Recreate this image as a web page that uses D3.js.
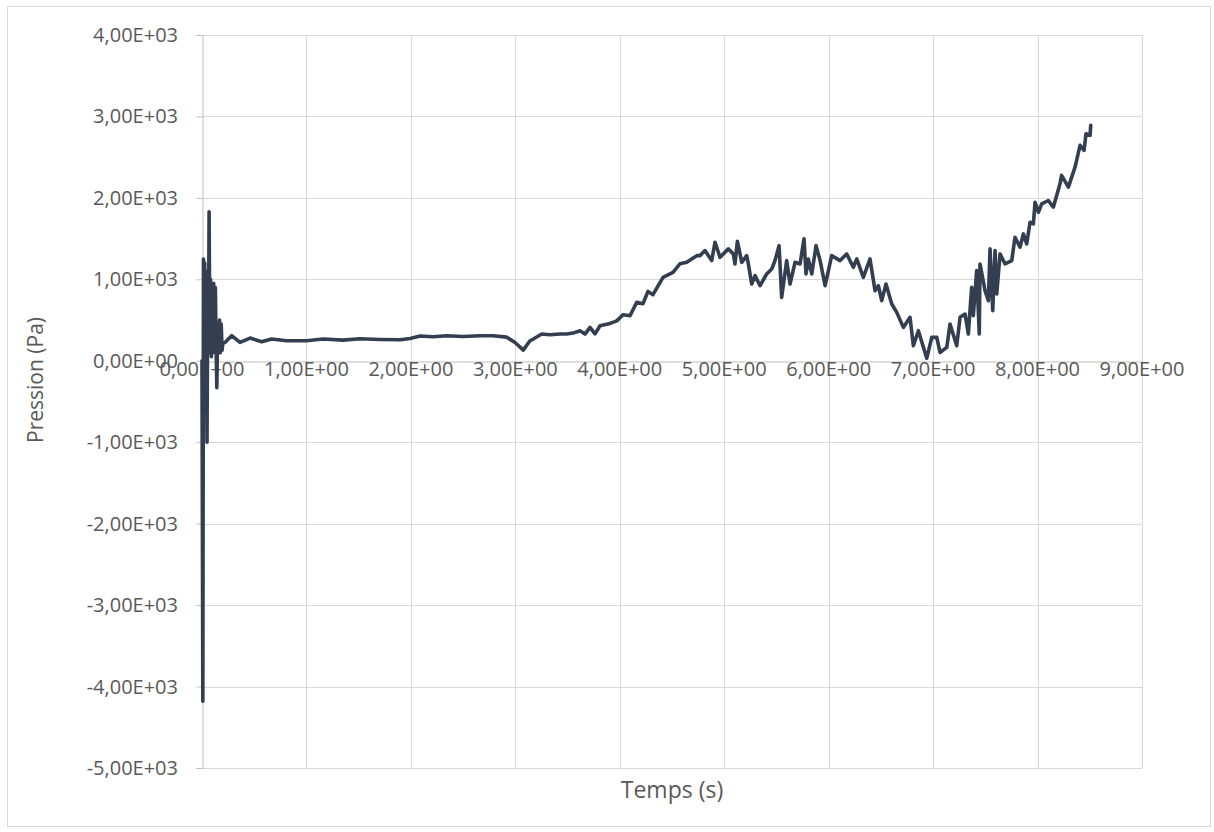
<!DOCTYPE html>
<html>
<head>
<meta charset="utf-8">
<script src="https://cdn.jsdelivr.net/npm/d3@7"></script>
<style>
  html, body { margin: 0; padding: 0; background: #ffffff; }
  svg { display: block; }
  text { font-family: "Open Sans", "Noto Sans", sans-serif; fill: #595959; }
</style>
</head>
<body>
<svg id="chart" width="1214" height="832"></svg>
<script>
// Time (s) of each pressure sample
const temps = [
  0.000, 0.008, 0.014, 0.020, 0.026, 0.032, 0.040, 0.048, 0.055, 0.062,
  0.068, 0.075, 0.082, 0.090, 0.098, 0.105, 0.112, 0.120, 0.128, 0.135,
  0.142, 0.150, 0.160, 0.168, 0.176, 0.184, 0.192, 0.200, 0.220, 0.284,
  0.364, 0.460, 0.572, 0.667, 0.811, 1.002, 1.159, 1.350, 1.513, 1.704,
  1.896, 1.992, 2.087, 2.212, 2.343, 2.499, 2.662, 2.786, 2.917, 2.997,
  3.076, 3.140, 3.172, 3.253, 3.332, 3.428, 3.492, 3.552, 3.619, 3.667,
  3.715, 3.763, 3.811, 3.907, 3.971, 4.031, 4.098, 4.162, 4.222, 4.270,
  4.318, 4.414, 4.509, 4.576, 4.641, 4.737, 4.768, 4.816, 4.880, 4.912,
  4.960, 5.039, 5.087, 5.103, 5.126, 5.168, 5.215, 5.231, 5.263, 5.295,
  5.343, 5.407, 5.455, 5.486, 5.525, 5.550, 5.598, 5.630, 5.678, 5.726,
  5.764, 5.783, 5.805, 5.838, 5.879, 5.918, 5.966, 6.029, 6.109, 6.173,
  6.236, 6.269, 6.332, 6.396, 6.444, 6.476, 6.508, 6.549, 6.604, 6.652,
  6.715, 6.779, 6.811, 6.859, 6.939, 6.987, 7.035, 7.066, 7.131, 7.162,
  7.226, 7.258, 7.306, 7.337, 7.369, 7.385, 7.417, 7.442, 7.449, 7.497,
  7.529, 7.545, 7.571, 7.593, 7.609, 7.641, 7.689, 7.753, 7.784, 7.832,
  7.864, 7.896, 7.928, 7.960, 7.976, 8.008, 8.040, 8.103, 8.151, 8.215,
  8.230, 8.295, 8.359, 8.407, 8.445, 8.464, 8.503, 8.509
];

// Measured pressure (Pa)
const pression = [
  0, -4180, 1250, 0, 1200, -300, 1100, -1000, 900, 200,
  1830, 100, 1000, 50, 900, 100, 950, 150, 900, 200,
  -330, 400, 150, 500, 100, 450, 130, 220, 225, 308,
  225, 279, 234, 267, 246, 246, 267, 254, 271, 262,
  258, 274, 304, 295, 308, 299, 308, 308, 290, 225,
  131, 246, 267, 328, 320, 328, 328, 340, 369, 328,
  410, 330, 430, 459, 490, 566, 553, 717, 700, 852,
  812, 1025, 1086, 1190, 1210, 1291, 1291, 1353, 1230, 1455,
  1270, 1374, 1312, 1189, 1468, 1209, 1291, 1189, 943, 1045,
  922, 1066, 1127, 1230, 1414, 779, 1230, 943, 1209, 1189,
  1497, 1066, 1250, 1066, 1414, 1230, 922, 1291, 1230, 1312,
  1148, 1250, 1025, 1250, 861, 922, 738, 943, 697, 594,
  410, 533, 185, 369, 30, 287, 287, 102, 164, 451,
  185, 533, 574, 328, 902, 554, 1107, 328, 1189, 861,
  738, 1374, 615, 1353, 820, 1312, 1189, 1230, 1517, 1394,
  1558, 1435, 1701, 1681, 1947, 1824, 1927, 1968, 1886, 2173,
  2276, 2132, 2378, 2645, 2583, 2788, 2768, 2891
];

// Axis ticks
const xTicks = [0, 1, 2, 3, 4, 5, 6, 7, 8, 9];
const yTicks = [-5000, -4000, -3000, -2000, -1000, 0, 1000, 2000, 3000, 4000];
const xTitle = "Temps (s)";
const yTitle = "Pression (Pa)";

// Scientific label with comma decimal: 1,00E+03
function sci(v) {
  if (v === 0) return "0,00E+00";
  const neg = v < 0;
  const a = Math.abs(v);
  const e = Math.floor(Math.log10(a));
  const m = a / Math.pow(10, e);
  const s = m.toFixed(2).replace(".", ",");
  const es = (e < 0 ? "-" : "+") + String(Math.abs(e)).padStart(2, "0");
  return (neg ? "-" : "") + s + "E" + es;
}

const svg = d3.select("#chart");
const plot = { left: 202, right: 1142, top: 35, bottom: 768 };

// outer chart frame
svg.append("rect")
  .attr("x", 7.5).attr("y", 6.5)
  .attr("width", 1203).attr("height", 820)
  .attr("fill", "#ffffff")
  .attr("stroke", "#d9d9d9").attr("stroke-width", 1);

const x = d3.scaleLinear().domain([0, 9]).range([plot.left, plot.right]);
const y = d3.scaleLinear().domain([-5000, 4000]).range([plot.bottom, plot.top]);

// gridlines
const grid = svg.append("g");
grid.selectAll("line.h").data(yTicks.filter(d => d !== 0)).join("line")
  .attr("class", "h")
  .attr("x1", plot.left).attr("x2", plot.right)
  .attr("y1", d => Math.round(y(d)) + 0.5).attr("y2", d => Math.round(y(d)) + 0.5)
  .attr("stroke", "#d9d9d9").attr("stroke-width", 1);
grid.selectAll("line.v").data(xTicks.filter(d => d !== 0)).join("line")
  .attr("class", "v")
  .attr("y1", plot.top).attr("y2", plot.bottom)
  .attr("x1", d => Math.round(x(d)) + 0.5).attr("x2", d => Math.round(x(d)) + 0.5)
  .attr("stroke", "#d9d9d9").attr("stroke-width", 1);

// y axis (left) with outward ticks
const yAxis = svg.append("g")
  .attr("transform", `translate(${plot.left + 0.5},0)`)
  .call(d3.axisLeft(y).tickValues(yTicks).tickSize(6).tickFormat(""));
yAxis.select(".domain").attr("stroke", "#bfbfbf");
yAxis.selectAll(".tick line").attr("stroke", "#bfbfbf");

// y tick labels
svg.append("g").selectAll("text").data(yTicks).join("text")
  .attr("x", 178).attr("y", d => y(d))
  .attr("dy", "0.35em")
  .attr("text-anchor", "end")
  .attr("font-size", 20)
  .text(d => sci(d));

// x axis at zero with downward ticks
const xAxis = svg.append("g")
  .attr("transform", `translate(0,${Math.round(y(0)) + 0.5})`)
  .call(d3.axisBottom(x).tickValues(xTicks).tickSize(6).tickFormat(""));
xAxis.select(".domain").attr("stroke", "#bfbfbf");
xAxis.selectAll(".tick line").attr("stroke", "#bfbfbf");

// x tick labels
svg.append("g").selectAll("text").data(xTicks).join("text")
  .attr("x", d => x(d)).attr("y", y(0) + 15)
  .attr("text-anchor", "middle")
  .attr("font-size", 20)
  .text(d => sci(d));

// pressure curve
const pts = temps.map((t, i) => [t, pression[i]]);
svg.append("path")
  .datum(pts)
  .attr("fill", "none")
  .attr("stroke", "#333f50")
  .attr("stroke-width", 3.6)
  .attr("stroke-linejoin", "round")
  .attr("stroke-linecap", "round")
  .attr("d", d3.line().x(d => x(d[0])).y(d => y(d[1])));

// axis titles
svg.append("text")
  .attr("x", (plot.left + plot.right) / 2).attr("y", 798)
  .attr("text-anchor", "middle")
  .attr("font-size", 23)
  .text(xTitle);

svg.append("text")
  .attr("transform", "translate(43,380) rotate(-90)")
  .attr("text-anchor", "middle")
  .attr("font-size", 21)
  .text(yTitle);
</script>
</body>
</html>
